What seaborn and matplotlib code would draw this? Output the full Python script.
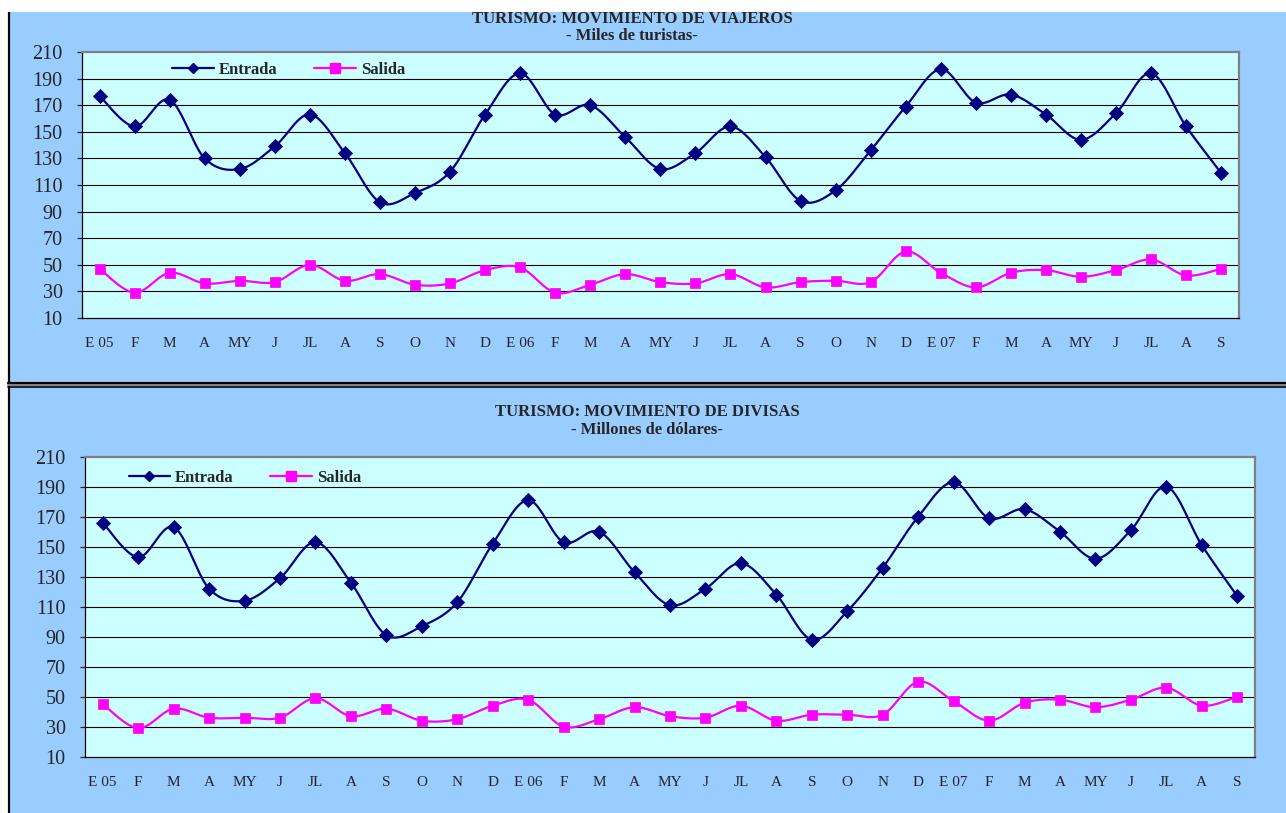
import matplotlib
matplotlib.use("Agg")
import matplotlib.pyplot as plt
from matplotlib.patches import Rectangle
from matplotlib.lines import Line2D
import numpy as np
import pandas as pd
import seaborn as sns

sns.set_style("white")
plt.rcParams["font.family"] = ["Liberation Serif", "DejaVu Serif"]

months = ["E 05", "F", "M", "A", "MY", "J", "JL", "A", "S", "O", "N", "D",
          "E 06", "F", "M", "A", "MY", "J", "JL", "A", "S", "O", "N", "D",
          "E 07", "F", "M", "A", "MY", "J", "JL", "A", "S"]

# -- miles de turistas
viajeros_entrada = [177, 154, 174, 130, 122, 139, 163, 134, 97, 104, 120, 163,
                    194, 163, 170, 146, 122, 134, 154, 131, 98, 106, 136, 169,
                    197, 172, 178, 163, 144, 164, 194, 154, 119]
viajeros_salida = [47, 29, 44, 36, 38, 37, 50, 38, 43, 35, 36, 46,
                   48, 29, 35, 43, 37, 36, 43, 33, 37, 38, 37, 60,
                   44, 33, 44, 46, 41, 46, 54, 42, 47]

# -- millones de dolares
divisas_entrada = [166, 143, 163, 122, 114, 129, 153, 126, 91, 97, 113, 152,
                   181, 153, 160, 133, 111, 122, 139, 118, 88, 107, 136, 170,
                   193, 169, 175, 160, 142, 161, 190, 151, 117]
divisas_salida = [45, 29, 42, 36, 36, 36, 49, 37, 42, 34, 35, 44,
                  48, 30, 35, 43, 37, 36, 44, 34, 38, 38, 38, 60,
                  47, 34, 46, 48, 43, 48, 56, 44, 50]

W, H = 1286, 813
panel_blue = "#99CCFF"
plot_cyan = "#CCFFFF"
navy = "#000080"
magenta = "#FF00FF"


def smooth(values, n=24):
    """excel-like smoothed line (bezier through the points)"""
    p = np.column_stack([np.arange(len(values)), np.asarray(values, float)])
    xs, ys = [], []
    for i in range(len(p) - 1):
        p0 = p[max(i - 1, 0)]
        p1, p2 = p[i], p[i + 1]
        p3 = p[min(i + 2, len(p) - 1)]
        c1 = p1 + (p2 - p0) / 6
        c2 = p2 - (p3 - p1) / 6
        t = np.linspace(0, 1, n)[:, None]
        b = ((1 - t) ** 3) * p1 + 3 * ((1 - t) ** 2) * t * c1 \
            + 3 * (1 - t) * t ** 2 * c2 + t ** 3 * p2
        xs.extend(b[:, 0])
        ys.extend(b[:, 1])
    return pd.DataFrame({"x": xs, "y": ys})


def fr(x0, y0, x1, y1):
    # pixel box -> figure fraction rect
    return [x0 / W, 1 - y1 / H, (x1 - x0) / W, (y1 - y0) / H]


def draw_panel(ax, entrada, salida, leg_x, leg_y):
    ax.set_facecolor(plot_cyan)
    for vals, col, mk, ms in [(entrada, navy, "D", 52), (salida, magenta, "s", 62)]:
        sm = smooth(vals)
        sns.lineplot(data=sm, x="x", y="y", sort=False, estimator=None,
                     color=col, linewidth=1.6, ax=ax, zorder=3)
        pts = pd.DataFrame({"x": np.arange(len(vals)), "y": vals})
        sns.scatterplot(data=pts, x="x", y="y", marker=mk, s=ms, color=col,
                        edgecolor=col, linewidth=0.5, ax=ax, zorder=4)
    ax.set_xlim(-0.5, len(months) - 0.5)
    ax.set_ylim(10, 210)
    ax.set_yticks(range(10, 211, 20))
    ax.set_xticks(range(len(months)))
    ax.set_xticklabels(months, fontsize=11)
    ax.set_xticks(np.arange(-0.5, len(months)), minor=True)
    ax.tick_params(axis="x", which="major", length=0, pad=14)
    ax.tick_params(axis="x", which="minor", length=3.8, width=0.9,
                   direction="out", color="black")
    ax.tick_params(axis="y", length=3.8, width=0.9, direction="out",
                   pad=10, labelsize=14.5, left=True)
    ax.set_xlabel("")
    ax.set_ylabel("")
    for yv in range(30, 210, 20):
        ax.axhline(yv, color="black", linewidth=0.8, zorder=1)
    ax.spines["top"].set_color("#808080")
    ax.spines["right"].set_color("#808080")
    ax.spines["top"].set_linewidth(1.6)
    ax.spines["right"].set_linewidth(1.6)
    ax.spines["left"].set_color("black")
    ax.spines["bottom"].set_color("black")
    ax.spines["left"].set_linewidth(0.9)
    ax.spines["bottom"].set_linewidth(0.9)
    handles = [Line2D([], [], color=navy, lw=1.6, marker="D", ms=5.5),
               Line2D([], [], color=magenta, lw=1.6, marker="s", ms=6.5)]
    ax.legend(handles, ["Entrada", "Salida"], ncol=2, frameon=False,
              loc="center left", bbox_to_anchor=(leg_x, leg_y),
              borderpad=0, borderaxespad=0, handlelength=2.5,
              handletextpad=0.3, columnspacing=2.2,
              prop={"weight": "bold", "size": 12})


fig = plt.figure(figsize=(W / 100, H / 100), dpi=100)
fig.patch.set_facecolor("white")

# panel backgrounds and borders
fig.add_artist(Rectangle((8 / W, 1 - 383 / H), 1, (383 - 12) / H,
                         transform=fig.transFigure, facecolor=panel_blue,
                         edgecolor="none", zorder=0))
fig.add_artist(Rectangle((8 / W, 0), 1, (H - 387) / H,
                         transform=fig.transFigure, facecolor=panel_blue,
                         edgecolor="none", zorder=0))
fig.add_artist(Line2D([9 / W, 9 / W], [1 - 12 / H, 1 - 383 / H],
                      transform=fig.transFigure, color="black", lw=1.6))
fig.add_artist(Line2D([9 / W, 9 / W], [1 - 387 / H, 0],
                      transform=fig.transFigure, color="black", lw=1.6))
fig.add_artist(Line2D([8 / W, 1], [1 - 383.5 / H] * 2,
                      transform=fig.transFigure, color="black", lw=1.6))
fig.add_artist(Line2D([8 / W, 1], [1 - 385.5 / H] * 2,
                      transform=fig.transFigure, color="#808080", lw=1.4))
fig.add_artist(Line2D([8 / W, 1], [1 - 387.5 / H] * 2,
                      transform=fig.transFigure, color="black", lw=1.2))

ax1 = fig.add_axes(fr(82, 52, 1238.7, 318))
draw_panel(ax1, viajeros_entrada, viajeros_salida,
           (172 - 82) / 1156.7, (318 - 70) / 266)

ax2 = fig.add_axes(fr(85, 456.7, 1255, 756.7))
draw_panel(ax2, divisas_entrada, divisas_salida,
           (128.5 - 85) / 1170, (756.7 - 477.7) / 300)

fig.text(632 / W, 1 - 23 / H, "TURISMO: MOVIMIENTO DE VIAJEROS",
         ha="center", va="baseline", fontsize=12, fontweight="bold")
fig.text(632 / W, 1 - 39.5 / H, "- Miles de turistas-",
         ha="center", va="baseline", fontsize=12, fontweight="bold")
fig.text(647 / W, 1 - 416 / H, "TURISMO: MOVIMIENTO DE DIVISAS",
         ha="center", va="baseline", fontsize=12, fontweight="bold")
fig.text(647 / W, 1 - 434 / H, "- Millones de dólares-",
         ha="center", va="baseline", fontsize=12, fontweight="bold")

# white strip on top clips the first title, as in the source
fig.add_artist(Rectangle((0, 1 - 12 / H), 1, 12 / H, transform=fig.transFigure,
                         facecolor="white", edgecolor="none", zorder=10))

fig.savefig("out.png", dpi=100)
